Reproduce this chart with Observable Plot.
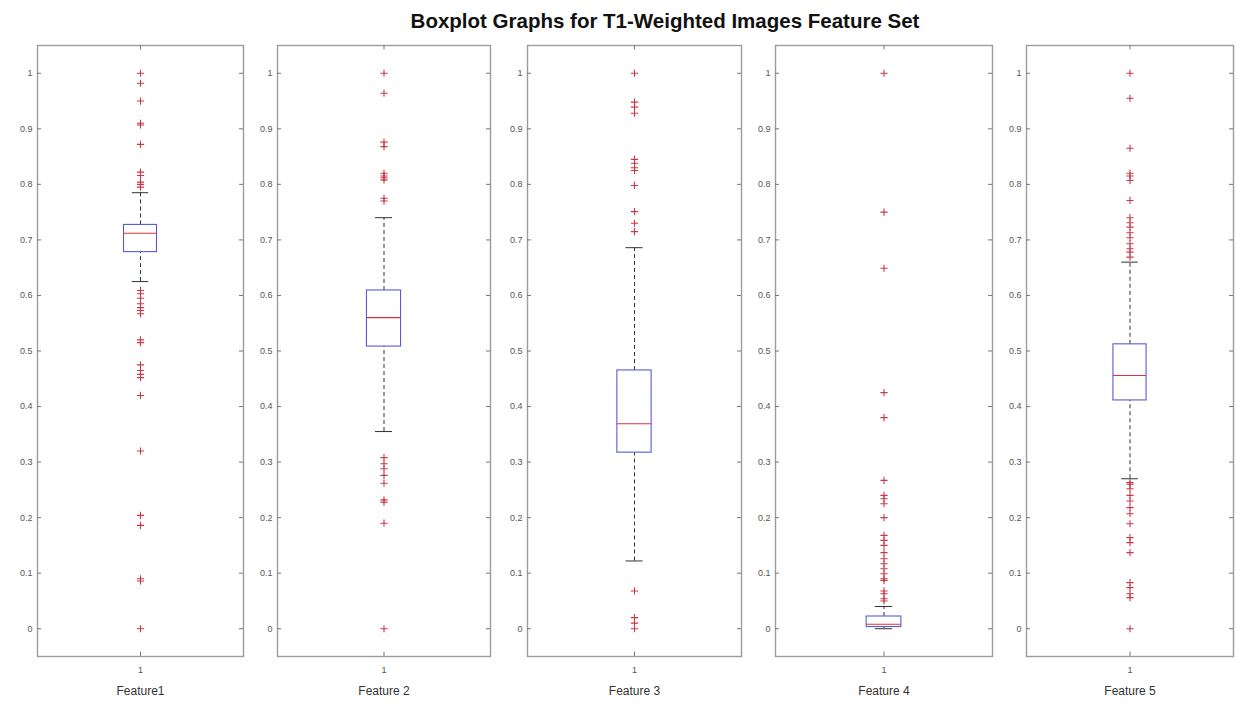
<!DOCTYPE html>
<html>
<head>
<meta charset="utf-8">
<script src="https://cdn.jsdelivr.net/npm/d3@7"></script>
<script src="https://cdn.jsdelivr.net/npm/@observablehq/plot@0.6"></script>
<style>
  html, body { margin: 0; padding: 0; background: #fff; }
  #wrap { position: relative; width: 1236px; height: 702px; overflow: hidden; background: #fff; font-family: "Liberation Sans", Arial, sans-serif; }
  #title { position: absolute; top: 9px; left: 315px; width: 700px; text-align: center; font-weight: bold; font-size: 20.5px; color: #111; }
  .panel { position: absolute; top: 40px; }
</style>
</head>
<body>
<div id="wrap">
  <div id="title">Boxplot Graphs for T1-Weighted Images Feature Set</div>
</div>
<script>
// ---- data ----
const featureNames = ["Feature1", "Feature 2", "Feature 3", "Feature 4", "Feature 5"];
const q1Values     = [0.678, 0.508, 0.317, 0.003, 0.411];
const medianValues = [0.712, 0.560, 0.369, 0.008, 0.456];
const q3Values     = [0.727, 0.609, 0.465, 0.022, 0.512];
const whiskerLow   = [0.625, 0.355, 0.122, 0.000, 0.270];
const whiskerHigh  = [0.785, 0.740, 0.686, 0.040, 0.660];
const outliersF1 = [1.0, 0.982, 0.95, 0.91, 0.907, 0.872, 0.822, 0.816, 0.804, 0.800, 0.795,
                    0.609, 0.603, 0.595, 0.585, 0.578, 0.573, 0.567, 0.520, 0.515,
                    0.475, 0.465, 0.458, 0.452, 0.420, 0.320, 0.204, 0.186, 0.090, 0.086, 0.0];
const outliersF2 = [1.0, 0.964, 0.876, 0.868, 0.820, 0.815, 0.812, 0.808, 0.775, 0.770,
                    0.308, 0.297, 0.288, 0.276, 0.262, 0.232, 0.228, 0.190, 0.0];
const outliersF3 = [1.0, 0.948, 0.939, 0.928, 0.845, 0.838, 0.830, 0.825, 0.798, 0.751, 0.730, 0.715,
                    0.068, 0.020, 0.010, 0.0];
const outliersF4 = [1.0, 0.750, 0.649, 0.425, 0.380, 0.267, 0.240, 0.234, 0.225, 0.200, 0.168, 0.159,
                    0.150, 0.137, 0.126, 0.117, 0.108, 0.099, 0.090, 0.087, 0.068, 0.063, 0.054, 0.050];
const outliersF5 = [1.0, 0.955, 0.865, 0.820, 0.815, 0.807, 0.771, 0.740, 0.731, 0.723, 0.713, 0.704,
                    0.693, 0.684, 0.678, 0.669,
                    0.263, 0.260, 0.252, 0.240, 0.230, 0.218, 0.207, 0.189, 0.164, 0.155, 0.137,
                    0.083, 0.074, 0.063, 0.056, 0.0];
const outliers = [outliersF1, outliersF2, outliersF3, outliersF4, outliersF5];
const yTicks = [0, 0.1, 0.2, 0.3, 0.4, 0.5, 0.6, 0.7, 0.8, 0.9, 1];
const xTicks = [1];

// ---- layout ----
const panelLeft  = [37, 277, 527, 775, 1026];
const panelRight = [243, 490, 741, 992, 1233];
const mL = 34, mR = 3;

// thin "+" marker like MATLAB
const thinPlus = {
  draw(ctx, size) {
    const r = Math.sqrt(size / Math.PI);
    ctx.moveTo(-r, 0); ctx.lineTo(r, 0);
    ctx.moveTo(0, -r); ctx.lineTo(0, r);
  }
};

const wrap = document.getElementById("wrap");
featureNames.forEach((name, i) => {
  const pw = panelRight[i] - panelLeft[i];
  const stats = [{q1: q1Values[i], med: medianValues[i], q3: q3Values[i], lo: whiskerLow[i], hi: whiskerHigh[i]}];
  const outs = outliers[i].map(v => ({v}));
  const tk = 4 / pw; // 4px ticks in x units (domain width 1)
  const bh = 0.08, ch = 0.04;
  const svg = Plot.plot({
    width: pw + mL + mR,
    height: 662,
    marginLeft: mL, marginRight: mR, marginTop: 5, marginBottom: 46,
    x: {domain: [0.5, 1.5]},
    y: {domain: [-0.05, 1.05]},
    style: {fontFamily: "'Liberation Sans', Arial, sans-serif", background: "transparent", color: "#333"},
    marks: [
      Plot.frame({stroke: "#9c9c9c", strokeWidth: 1.4}),
      Plot.ruleY(yTicks, {x1: 0.5, x2: 0.5 + tk, stroke: "#777"}),
      Plot.ruleY(yTicks, {x1: 1.5 - tk, x2: 1.5, stroke: "#777"}),
      Plot.ruleX(xTicks, {y1: -0.05, y2: -0.05 + 0.008, stroke: "#777"}),
      Plot.ruleX(xTicks, {y1: 1.05 - 0.008, y2: 1.05, stroke: "#777"}),
      Plot.axisY(yTicks, {tickSize: 0, tickPadding: 5, fontSize: 9, fill: "#555", label: null,
                          tickFormat: d => String(+d.toFixed(1))}),
      Plot.axisX(xTicks, {tickSize: 0, tickPadding: 10, fontSize: 9, fill: "#555", label: null, tickFormat: d => String(d)}),
      Plot.text([name], {frameAnchor: "bottom", dy: 38, fontSize: 12, fill: "#333"}),
      // whiskers
      Plot.ruleX(stats, {x: 1, y1: "q3", y2: "hi", stroke: "#333", strokeDasharray: "4,3"}),
      Plot.ruleX(stats, {x: 1, y1: "lo", y2: "q1", stroke: "#333", strokeDasharray: "4,3"}),
      Plot.ruleY(stats, {y: "hi", x1: 1 - ch, x2: 1 + ch, stroke: "#333"}),
      Plot.ruleY(stats, {y: "lo", x1: 1 - ch, x2: 1 + ch, stroke: "#333"}),
      // box
      Plot.rect(stats, {x1: 1 - bh, x2: 1 + bh, y1: "q1", y2: "q3", fill: "white", stroke: "#5a5ad8", strokeWidth: 1.1}),
      Plot.ruleY(stats, {y: "med", x1: 1 - bh, x2: 1 + bh, stroke: "#e0303a", strokeWidth: 1.1}),
      // outliers
      Plot.dot(outs, {x: 1, y: "v", symbol: thinPlus, r: 3.6, stroke: "#c83a4a", strokeWidth: 1.1, fill: "none"})
    ]
  });
  svg.classList.add("panel");
  svg.style.left = (panelLeft[i] - mL) + "px";
  wrap.appendChild(svg);
});
</script>
</body>
</html>
